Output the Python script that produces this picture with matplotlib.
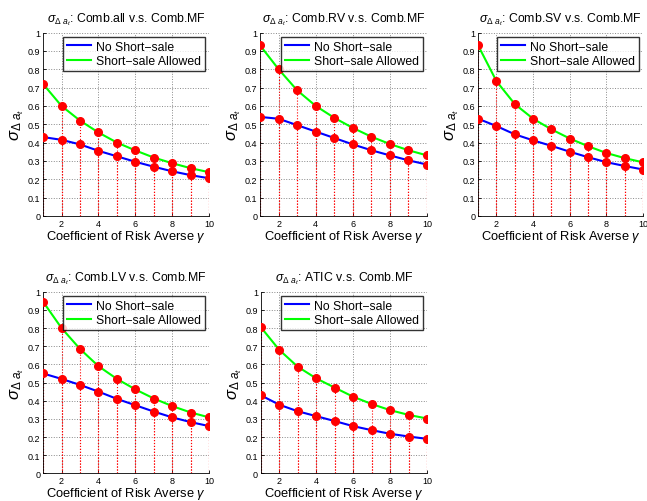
import numpy as np
import matplotlib
matplotlib.use("Agg")
import matplotlib.pyplot as plt

plt.rcParams['font.family'] = ['Liberation Sans', 'DejaVu Sans']
plt.rcParams['mathtext.fontset'] = 'custom'
plt.rcParams['mathtext.rm'] = 'Liberation Sans'
plt.rcParams['mathtext.it'] = 'Liberation Sans:italic'

gamma = [1, 2, 3, 4, 5, 6, 7, 8, 9, 10]

titles = ['Comb.all v.s. Comb.MF', 'Comb.RV v.s. Comb.MF', 'Comb.SV v.s. Comb.MF',
          'Comb.LV v.s. Comb.MF', 'ATIC v.s. Comb.MF']

no_short_all = [0.43, 0.415, 0.39, 0.355, 0.325, 0.295, 0.268, 0.243, 0.222, 0.205]
short_all = [0.72, 0.60, 0.52, 0.455, 0.40, 0.357, 0.318, 0.287, 0.26, 0.238]
no_short_rv = [0.54, 0.53, 0.495, 0.46, 0.425, 0.39, 0.358, 0.33, 0.303, 0.28]
short_rv = [0.93, 0.80, 0.685, 0.60, 0.535, 0.48, 0.432, 0.392, 0.358, 0.33]
no_short_sv = [0.53, 0.49, 0.445, 0.412, 0.382, 0.35, 0.32, 0.293, 0.272, 0.253]
short_sv = [0.93, 0.735, 0.61, 0.53, 0.472, 0.422, 0.38, 0.343, 0.315, 0.292]
no_short_lv = [0.55, 0.52, 0.487, 0.45, 0.41, 0.375, 0.34, 0.308, 0.282, 0.26]
short_lv = [0.945, 0.80, 0.685, 0.59, 0.52, 0.462, 0.412, 0.37, 0.335, 0.308]
no_short_atic = [0.43, 0.378, 0.342, 0.315, 0.288, 0.26, 0.238, 0.218, 0.203, 0.19]
short_atic = [0.805, 0.68, 0.587, 0.523, 0.472, 0.422, 0.382, 0.348, 0.322, 0.302]

no_short = [no_short_all, no_short_rv, no_short_sv, no_short_lv, no_short_atic]
short = [short_all, short_rv, short_sv, short_lv, short_atic]

# axes positions in figure fractions
positions = [
    [0.0665, 0.568, 0.257, 0.365],
    [0.402, 0.568, 0.258, 0.365],
    [0.739, 0.568, 0.255, 0.365],
    [0.0665, 0.055, 0.257, 0.362],
    [0.403, 0.055, 0.257, 0.362],
]

fig = plt.figure(figsize=(6.47, 5.02), dpi=100)

for i in range(5):
    ax = fig.add_axes(positions[i])
    # red dotted stems down to zero
    for series in (short[i], no_short[i]):
        ax.vlines(gamma, 0, series, colors='red', linestyles=':', linewidth=0.8, zorder=2)
    ax.plot(gamma, no_short[i], color='blue', linewidth=1.5, label='No Short\u2212sale', zorder=3)
    ax.plot(gamma, short[i], color='#00ff00', linewidth=1.5, label='Short\u2212sale Allowed', zorder=3)
    ax.plot(gamma, no_short[i], 'o', color='red', markersize=5.5, zorder=4)
    ax.plot(gamma, short[i], 'o', color='red', markersize=5.5, zorder=4)

    ax.set_xlim(1, 10)
    ax.set_ylim(0, 1)
    ax.set_xticks([2, 4, 6, 8, 10])
    ax.set_yticks(np.arange(0, 1.01, 0.1))
    ax.set_yticklabels(['0', '0.1', '0.2', '0.3', '0.4', '0.5', '0.6', '0.7', '0.8', '0.9', '1'])
    ax.tick_params(labelsize=6.5, direction='in', length=2, width=0.6, pad=2)
    ax.grid(True, linestyle=':', color='#888888', linewidth=0.7)
    ax.spines['top'].set_visible(False)
    ax.spines['right'].set_visible(False)
    for s in ('left', 'bottom'):
        ax.spines[s].set_linewidth(0.6)

    ax.set_title(r'$\sigma_{\Delta\ a_t}$: ' + titles[i], fontsize=8.8, pad=8)
    ax.set_xlabel(r'Coefficient of Risk Averse $\gamma$', fontsize=9.3, labelpad=0)
    ax.set_ylabel(r'$\sigma_{\Delta\ a_t}$', fontsize=12, labelpad=1)

    leg = ax.legend(loc='upper right', fontsize=8.8, frameon=True, fancybox=False,
                    handlelength=2.0, borderpad=0.3, labelspacing=0.2,
                    handletextpad=0.4, borderaxespad=0.35)
    leg.get_frame().set_edgecolor('black')
    leg.get_frame().set_linewidth(1.0)

fig.savefig('out.png', dpi=100)
